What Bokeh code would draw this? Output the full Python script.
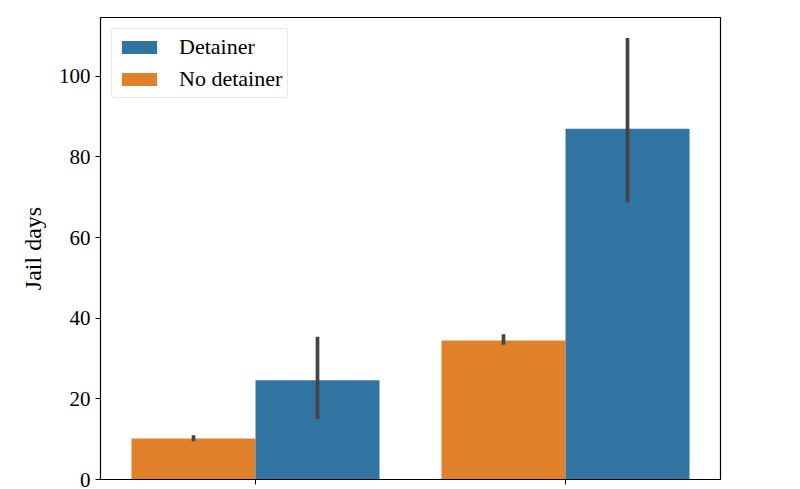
from bokeh.plotting import figure
from bokeh.models import ColumnDataSource, Range1d, Legend, LegendItem, FixedTicker
from bokeh.embed import file_html
from bokeh.resources import INLINE

categories = ["Misdemeanor", "Felony"]
hues = ["No detainer", "Detainer"]
no_detainer_mean = [10.2, 34.5]
no_detainer_lo = [9.5, 33.4]
no_detainer_hi = [11.0, 36.0]
detainer_mean = [24.6, 87.0]
detainer_lo = [15.0, 68.7]
detainer_hi = [35.4, 109.5]
y_ticks = [0, 20, 40, 60, 80, 100]

BLUE = "#3274a1"
ORANGE = "#e1812c"
FONT = "Liberation Serif"

p = figure(width=800, height=489, output_backend="svg", toolbar_location=None,
           x_range=Range1d(-0.5, 1.5), y_range=Range1d(0, 114.6),
           min_border_left=100, min_border_right=80, min_border_top=17, min_border_bottom=10)
p.grid.visible = False
p.outline_line_color = "black"
p.outline_line_width = 1.2
p.outline_line_alpha = 1.0
p.background_fill_color = "white"
p.border_fill_color = "white"

idx = list(range(len(categories)))
src_no = ColumnDataSource(dict(x=[i - 0.2 for i in idx], top=no_detainer_mean,
                               lo=no_detainer_lo, hi=no_detainer_hi))
src_de = ColumnDataSource(dict(x=[i + 0.2 for i in idx], top=detainer_mean,
                               lo=detainer_lo, hi=detainer_hi))

r_no = p.vbar(x="x", top="top", bottom=0, width=0.4, source=src_no,
              fill_color=ORANGE, line_color=None)
r_de = p.vbar(x="x", top="top", bottom=0, width=0.4, source=src_de,
              fill_color=BLUE, line_color=None)
p.segment(x0="x", x1="x", y0="lo", y1="hi", source=src_no, line_color="#444444", line_width=3.7)
p.segment(x0="x", x1="x", y0="lo", y1="hi", source=src_de, line_color="#444444", line_width=3.7)

# axes
p.xaxis.ticker = FixedTicker(ticks=idx)
p.xaxis.major_label_overrides = {i: "" for i in idx}
p.xaxis.major_label_text_font_size = "1px"
p.xaxis.major_label_standoff = 0
p.xaxis.minor_tick_line_color = None
p.xaxis.major_tick_in = 0
p.xaxis.major_tick_out = 5
p.xaxis.axis_line_color = "black"
p.xaxis.major_tick_line_color = "black"

p.yaxis.ticker = FixedTicker(ticks=y_ticks)
p.yaxis.minor_tick_line_color = None
p.yaxis.major_tick_in = 0
p.yaxis.major_tick_out = 5
p.yaxis.major_label_standoff = 5
p.yaxis.major_label_text_font = FONT
p.yaxis.major_label_text_font_size = "21px"
p.yaxis.major_label_text_color = "black"
p.yaxis.axis_label = "Jail days"
p.yaxis.axis_label_text_font = FONT
p.yaxis.axis_label_text_font_size = "24px"
p.yaxis.axis_label_text_font_style = "normal"
p.yaxis.axis_label_text_color = "black"
p.yaxis.axis_label_standoff = 10
p.yaxis.axis_line_color = "black"

legend = Legend(items=[LegendItem(label=hues[1], renderers=[r_de]),
                       LegendItem(label=hues[0], renderers=[r_no])],
                location="top_left")
legend.margin = 11
legend.padding = 5
legend.spacing = 6
legend.glyph_width = 44
legend.glyph_height = 16
legend.label_height = 20
legend.label_standoff = 18
legend.label_text_font = FONT
legend.label_text_font_size = "22px"
legend.label_text_color = "black"
legend.border_line_color = "#d0d0d0"
legend.border_line_width = 1
legend.border_radius = 4
legend.background_fill_alpha = 0.8
p.add_layout(legend)

open("out.html", "w").write(file_html(p, INLINE))
